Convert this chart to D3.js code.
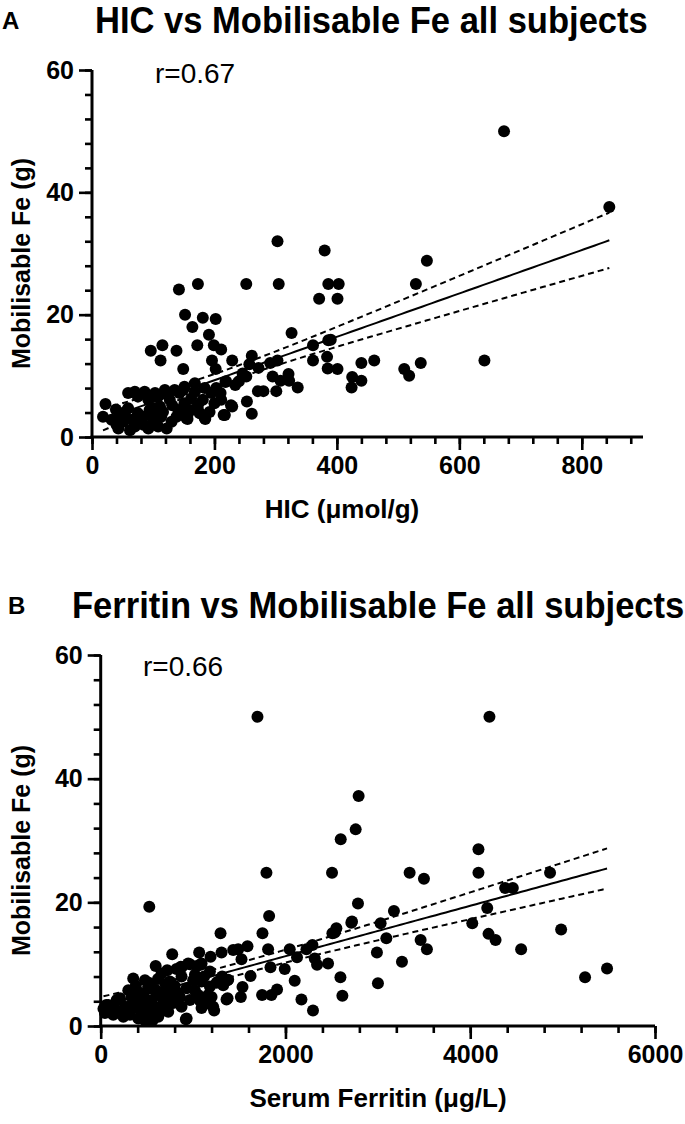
<!DOCTYPE html>
<html>
<head>
<meta charset="utf-8">
<script src="https://cdn.jsdelivr.net/npm/d3@7"></script>
<style>
  body { margin: 0; background: #fff; }
  svg { display: block; font-family: "Liberation Sans", Arial, Helvetica, sans-serif; }
</style>
</head>
<body>
<svg id="chart" width="685" height="1124"></svg>
<script>
// ---- panel A: HIC (umol/g) vs mobilisable Fe (g)
const hicX = [303,380,173,252,305,386,403,142,371,401,152,181,202,164,191,326,172,96,115,138,199,211,361,386,390,
  112,149,196,202,229,261,257,272,291,303,361,384,385,401,295,308,321,322,336,301,271,280,424,425,440,461,440,
  218,234,240,246,252,229,253,261,215,185,156,673,845,547,529,510,518,537,641,
  22,18,39,46,43,59,59,65,62,75,75,84,92,94,100,108,111,113,122,124,131,138,143,149,151,154,162,168,173,184,181,
  195,200,211,217,227,219,210,32,40,51,70,84,103,116,130,141,160,176,192,127,135,119,103,86,70,54,78,92,108,97,
  157,184,168,151,203,173];
const hicFe = [32.0,30.5,25.0,25.0,25.0,25.0,25.0,24.1,22.6,22.6,20.0,19.5,19.3,18.0,16.7,17.0,15.0,14.1,15.0,14.1,15.0,14.3,15.0,15.8,15.9,
  12.5,11.1,12.5,11.1,12.5,13.3,11.9,11.3,12.1,12.5,12.5,13.1,11.2,11.1,9.9,9.2,10.3,9.2,8.1,7.5,7.5,7.5,8.1,9.8,12.1,12.5,9.2,
  9.0,8.5,9.1,10.4,9.9,5.0,5.8,3.8,3.6,2.95,2.95,50.0,37.6,28.8,25.0,11.1,10.0,12.1,12.5,
  5.4,3.3,4.5,3.3,1.4,7.2,4.7,2.8,1.1,6.6,3.9,2.0,6.1,4.4,2.5,6.6,5.0,3.3,1.4,7.2,5.2,3.3,7.2,7.7,5.5,3.1,6.3,7.4,5.2,3.1,6.1,
  7.2,5.5,6.1,3.6,5.2,9.1,7.2,2.8,2.0,2.5,1.7,3.3,4.7,4.1,2.5,4.4,4.4,3.9,4.1,6.1,7.7,7.7,7.2,7.4,7.4,4.1,2.8,1.4,1.7,3.6,
  3.9,8.0,8.8,8.2,8.0,4.4];

// ---- panel B: serum ferritin (ug/L) vs mobilisable Fe (g)
const ferritinX = [1697,4208,2792,2760,2598,4089,1794,2504,4089,4864,3344,3499,4378,4461,526,2785,3174,4184,1823,2720,3030,4022,
  2551,2508,1751,1297,4984,3092,4198,4274,3463,3531,4551,2990,3261,3001,5243,5481,2713,2533,
  1812,1308,1488,1589,1524,2046,2125,2227,2292,2317,2342,2461,1838,1992,1622,2100,2595,2616,2173,2298,1747,1848,1909,
  1517,1535,1362,1228,1200,922,1066,1189,774,595,352,479,659,1373,1373,1434,
  868,965,1084,1182,749,875,1001,1092,1272,1326,299,407,515,605,713,822,930,1019,1217,1109,930,82,173,46,136,263,371,
  461,587,677,785,875,317,407,515,623,245,209,335,443,551,659,767,857,965,1055,1163,389,731,875,947,1038,1092,1074,
  1092,1146,1315,1380,1254,1182,1163,30,60,100,150,200,280,330,430,490,560,640,700,480,560,600,700,800,460,380,520,
  620,720,820,1020,1120];
const ferritinFe = [50,50,37.2,31.8,30.2,28.6,24.8,24.8,24.8,24.8,24.8,23.8,22.3,22.3,19.3,19.8,18.6,19.1,17.8,16.9,16.6,16.6,
  15.8,15.0,15.0,15.0,15.6,14.2,14.9,13.9,13.9,12.4,12.4,11.9,10.4,6.9,7.9,9.3,16.7,15.1,
  12.4,11.9,12.4,12.9,10.8,12.4,11.1,12.4,13.1,10.9,9.9,10.1,9.5,9.2,8.1,7.3,7.9,4.9,4.3,2.5,5.0,5.0,5.9,
  4.7,6.3,4.3,2.5,4.7,1.1,11.9,11.2,11.6,9.7,7.7,7.4,8.5,7.4,4.5,12.3,
  9.6,10.0,9.9,8.8,7.2,8.0,7.4,7.2,7.2,6.6,5.8,5.5,6.1,5.3,5.8,5.5,6.1,5.8,3.1,3.4,1.2,3.4,4.2,2.1,1.8,3.1,3.7,
  2.6,3.1,3.4,3.7,3.1,1.8,1.2,1.5,1.5,1.5,4.5,4.7,4.5,4.2,4.7,4.5,4.7,4.2,5.0,3.7,2.9,2.3,9.5,10.1,9.7,10.1,4.1,
  2.9,3.7,8.0,7.5,7.0,6.4,5.0,2.8,3.4,2.4,2.9,2.2,2.5,3.3,3.5,3.9,2.8,2.2,2.6,0.9,0.9,5.8,6.8,6.5,5.0,6.5,7.0,
  7.6,9.0,9.2,8.3,8.0];

const yTicksMajor = [0, 20, 40, 60];

const svg = d3.select("#chart");

// OLS fit with 95% confidence band of the mean
function fitLine(xs, ys) {
  const n = xs.length;
  const mx = d3.mean(xs), my = d3.mean(ys);
  let sxx = 0, sxy = 0;
  xs.forEach((x, i) => { sxx += (x - mx) ** 2; sxy += (x - mx) * (ys[i] - my); });
  const slope = sxy / sxx, icpt = my - slope * mx;
  let sse = 0;
  xs.forEach((x, i) => { sse += (ys[i] - icpt - slope * x) ** 2; });
  const s = Math.sqrt(sse / (n - 2));
  const t = 1.97;
  const x0 = d3.min(xs), x1 = d3.max(xs);
  return d3.range(0, 101).map(k => {
    const x = x0 + (x1 - x0) * k / 100;
    const yh = icpt + slope * x;
    const h = t * s * Math.sqrt(1 / n + (x - mx) ** 2 / sxx);
    return { x, y: yh, lo: yh - h, hi: yh + h };
  });
}

function drawPanel(cfg) {
  const x = d3.scaleLinear().domain(cfg.xDomain).range(cfg.xRange);
  const y = d3.scaleLinear().domain([0, 60]).range(cfg.yRange);
  const g = svg.append("g");
  const axisY = cfg.xRange[0], axisX = cfg.yRange[0];

  // minor ticks
  g.append("g").attr("transform", `translate(0,${axisX})`)
    .call(d3.axisBottom(x).tickValues(cfg.xMinor).tickSize(7).tickFormat(""))
    .call(a => a.select(".domain").remove());
  g.append("g").attr("transform", `translate(${axisY},0)`)
    .call(d3.axisLeft(y).tickValues(d3.range(0, 61, 4)).tickSize(7).tickFormat(""))
    .call(a => a.select(".domain").remove());

  // major ticks + labels
  const gx = g.append("g").attr("transform", `translate(0,${axisX})`)
    .call(d3.axisBottom(x).tickValues(cfg.xMajor).tickSize(13).tickSizeOuter(0).tickPadding(6).tickFormat(d3.format("d")));
  const gy = g.append("g").attr("transform", `translate(${axisY},0)`)
    .call(d3.axisLeft(y).tickValues(yTicksMajor).tickSize(13).tickSizeOuter(0).tickPadding(5).tickFormat(d3.format("d")));
  [gx, gy].forEach(a => {
    a.selectAll("text").attr("font-size", 25).attr("font-weight", "bold").attr("fill", "#000")
      .attr("font-family", "'Liberation Sans', Arial, sans-serif");
  });
  g.selectAll(".tick line").attr("stroke", "#000").attr("stroke-width", 2.6);
  gx.select(".domain").attr("stroke", "#000").attr("stroke-width", 3)
    .attr("d", `M${cfg.xRange[0] - 1.5},0H${cfg.xRange[1]}`);
  gy.select(".domain").attr("stroke", "#000").attr("stroke-width", 3)
    .attr("d", `M0,${cfg.yRange[1]}V${cfg.yRange[0] + 1.5}`);

  // points
  g.append("g").selectAll("circle")
    .data(cfg.xs.map((v, i) => [v, cfg.ys[i]]))
    .join("circle")
    .attr("cx", d => x(d[0])).attr("cy", d => y(d[1]))
    .attr("r", 6).attr("fill", "#000");

  // fit + confidence band
  const fit = fitLine(cfg.xs, cfg.ys);
  const mk = key => d3.line().x(d => x(d.x)).y(d => y(d[key]));
  g.append("path").datum(fit).attr("d", mk("y"))
    .attr("fill", "none").attr("stroke", "#000").attr("stroke-width", 2);
  ["lo", "hi"].forEach(k => {
    g.append("path").datum(fit).attr("d", mk(k))
      .attr("fill", "none").attr("stroke", "#000").attr("stroke-width", 2)
      .attr("stroke-dasharray", "6,4");
  });

  // texts
  svg.append("text").attr("x", cfg.letterX).attr("y", cfg.titleY - 4)
    .attr("font-size", 24).attr("font-weight", "bold").text(cfg.letter);
  svg.append("text")
    .attr("transform", `translate(${cfg.titleX},${cfg.titleY}) scale(0.96,1)`)
    .attr("font-size", 36).attr("font-weight", "bold").text(cfg.title);
  svg.append("text").attr("x", cfg.rX).attr("y", cfg.rY)
    .attr("font-size", 28).text(cfg.r);
  svg.append("text").attr("x", cfg.xTitleX).attr("y", axisX + 81)
    .attr("text-anchor", "middle").attr("font-size", 26).attr("font-weight", "bold").text(cfg.xTitle);
  svg.append("text")
    .attr("transform", `translate(30,${(cfg.yRange[0] + cfg.yRange[1]) / 2 + 10}) rotate(-90)`)
    .attr("text-anchor", "middle").attr("font-size", 25).attr("font-weight", "bold")
    .text("Mobilisable Fe (g)");
}

drawPanel({
  xs: hicX, ys: hicFe,
  xDomain: [0, 900], xRange: [92, 643], yRange: [437, 70],
  xMajor: [0, 200, 400, 600, 800], xMinor: d3.range(0, 881, 40),
  letter: "A", letterX: 2, title: "HIC vs Mobilisable Fe all subjects", titleX: 95, titleY: 33,
  r: "r=0.67", rX: 155, rY: 83,
  xTitle: "HIC (\u03bcmol/g)", xTitleX: 342
});

drawPanel({
  xs: ferritinX, ys: ferritinFe,
  xDomain: [0, 6000], xRange: [100.7, 655], yRange: [1026, 655],
  xMajor: [0, 2000, 4000, 6000], xMinor: d3.range(0, 6001, 400),
  letter: "B", letterX: 8, title: "Ferritin vs Mobilisable Fe all subjects", titleX: 72, titleY: 618,
  r: "r=0.66", rX: 143, rY: 676,
  xTitle: "Serum Ferritin (\u03bcg/L)", xTitleX: 378
});
</script>
</body>
</html>
